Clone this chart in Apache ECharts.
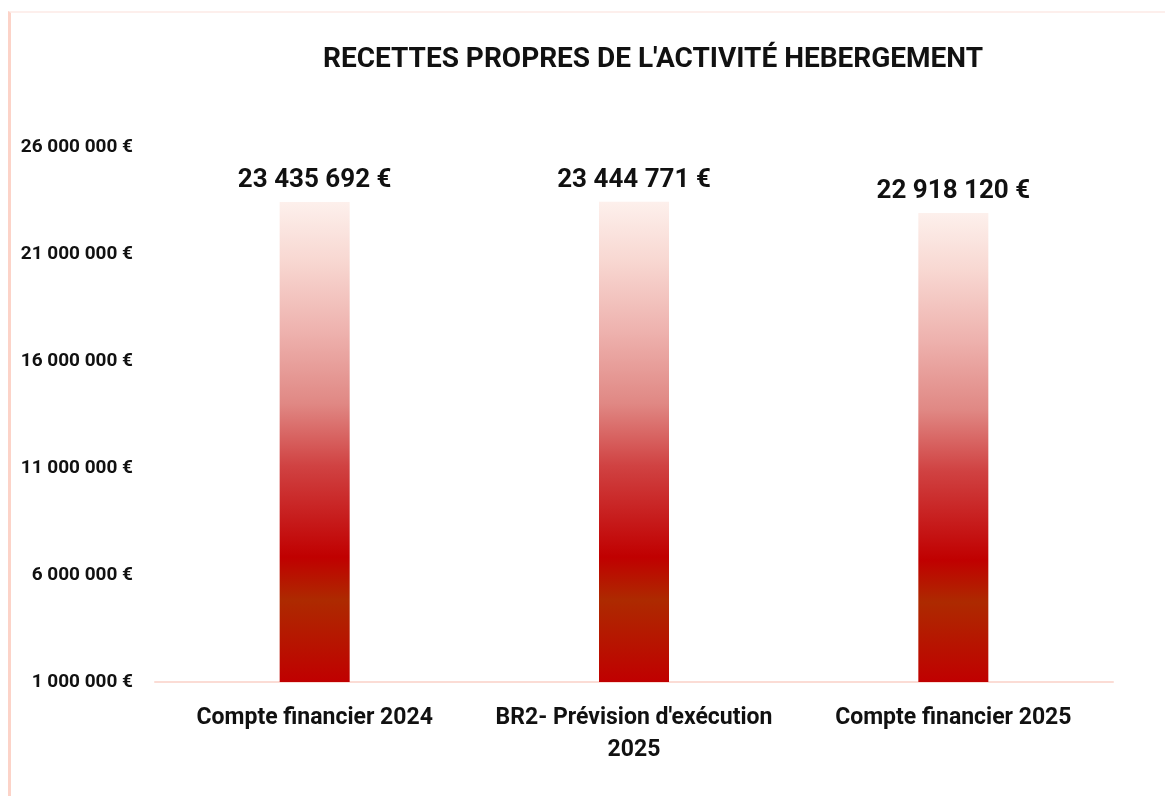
<!DOCTYPE html>
<html>
<head>
    <meta charset="utf-8"/>
    <title>Recettes propres de l'activité hébergement</title>
    <script src="https://cdn.jsdelivr.net/npm/echarts@6/dist/echarts.min.js"></script>
    <style>
        html, body { margin: 0; padding: 0; background: #fff; }
        #frame {
            position: absolute; left: 8px; top: 11px; width: 1157px; height: 785px;
            border-left: 3px solid #fcd3c8; border-top: 2px solid #fdefec;
            box-sizing: border-box;
        }
        #main { position: absolute; left: 0; top: 0; width: 1165px; height: 796px; }
    </style>
</head>
<body>
<div id="frame"></div>
<div id="main"></div>
<script>
    // données
    let categories = ['Compte financier 2024', "BR2- Prévision d'exécution\n2025", 'Compte financier 2025'];
    let values = [23435692, 23444771, 22918120];
    let yMin = 1000000;
    let yMax = 26000000;
    let yStep = 5000000;

    function euro(v) {
        return String(Math.round(v)).replace(/\B(?=(\d{3})+(?!\d))/g, ' ') + ' €';
    }

    let barColor = new echarts.graphic.LinearGradient(0, 0, 0, 1, [
        {offset: 0, color: '#fdf0ec'},
        {offset: 0.12, color: '#f8d8d2'},
        {offset: 0.27, color: '#eeb2ae'},
        {offset: 0.42, color: '#e08884'},
        {offset: 0.55, color: '#d04242'},
        {offset: 0.74, color: '#c00000'},
        {offset: 0.83, color: '#ad2a00'},
        {offset: 1, color: '#c00000'}
    ]);

    let myChart = echarts.init(document.getElementById('main'));
    let option = {
        animation: false,
        title: {
            text: "RECETTES PROPRES DE L'ACTIVITÉ HEBERGEMENT",
            left: 648,
            top: 41,
            textAlign: 'center',
            textStyle: {
                fontFamily: 'Roboto',
                fontWeight: 'bold',
                fontSize: 28,
                color: '#111'
            }
        },
        grid: {
            left: 155,
            right: 52,
            top: 147,
            bottom: 114,
            containLabel: false
        },
        xAxis: {
            type: 'category',
            data: categories,
            axisLine: {lineStyle: {color: '#fbdcd5', width: 2}},
            axisTick: {show: false},
            axisLabel: {
                margin: 20,
                fontFamily: 'Roboto',
                fontWeight: 'bold',
                fontSize: 23,
                lineHeight: 32,
                color: '#111',
                interval: 0
            }
        },
        yAxis: {
            type: 'value',
            min: yMin,
            max: yMax,
            interval: yStep,
            axisLine: {show: false},
            axisTick: {show: false},
            splitLine: {show: false},
            axisLabel: {
                margin: 22,
                fontFamily: 'Roboto',
                fontWeight: 'bold',
                fontSize: 19,
                color: '#111',
                formatter: euro
            }
        },
        series: [
            {
                type: 'bar',
                data: values,
                barWidth: 70,
                itemStyle: {color: barColor},
                label: {
                    show: true,
                    position: 'top',
                    distance: 8,
                    fontFamily: 'Roboto',
                    fontWeight: 'bold',
                    fontSize: 26,
                    color: '#111',
                    formatter: function (p) { return euro(p.value); }
                }
            }
        ]
    };
    myChart.setOption(option);
</script>
</body>
</html>
